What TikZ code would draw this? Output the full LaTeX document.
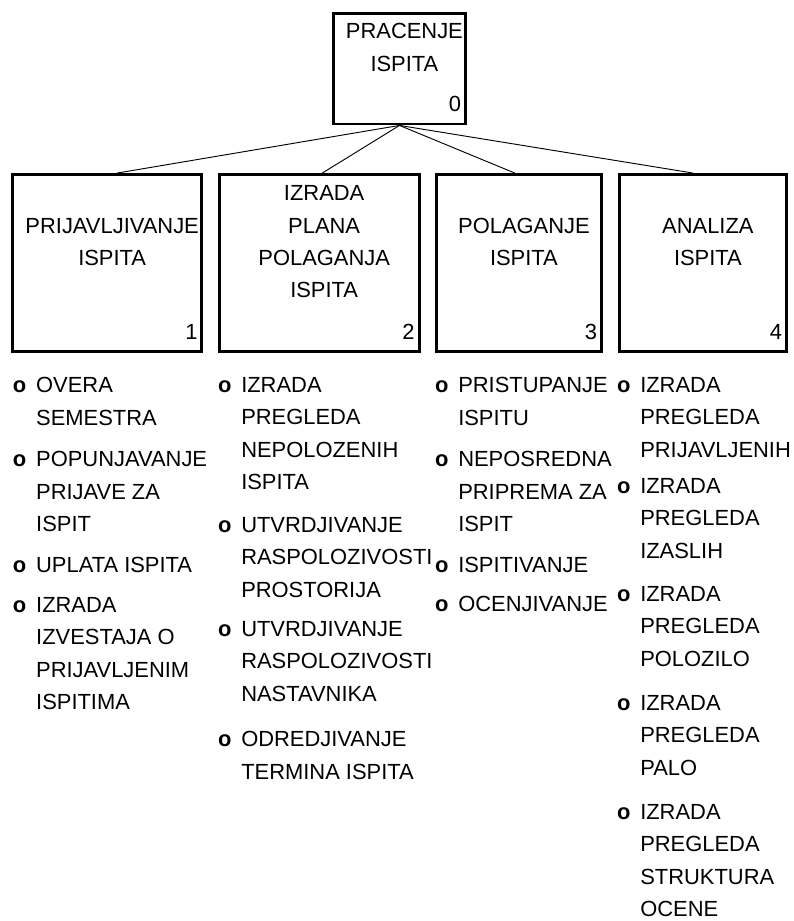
\documentclass[tikz,border=0pt]{standalone}
\usepackage{fontspec}
\setmainfont{Liberation Sans}
\usepackage{tikz}
\usetikzlibrary{positioning}
\newcommand{\itemdot}{\llap{\textbf{o}\hspace{7.4pt}}}
\tikzset{
    proc/.style={rectangle, draw=black, line width=2.2pt, minimum height=4.68cm, inner sep=0pt},
    title/.style={align=center, inner sep=0pt},
    num/.style={anchor=base east, inner sep=0pt},
    task/.style={anchor=north west, align=left, inner sep=0pt},
    link/.style={line width=0.7pt, black},
}

\begin{document}
\begin{tikzpicture}[font=\fontsize{16.5pt}{24.4pt}\selectfont]
    \path[fill=white] (0,0) rectangle (21.008,-24.368);
    \useasboundingbox (0,0) rectangle (21.008,-24.368);

    % Root
    \node[proc, minimum width=3.49cm, minimum height=2.92cm] (b0) at (10.57,-1.82) {};
    \node[title] (t0) at ([xshift=0.13cm,yshift=0.56cm]b0.center) {PRACENJE\\ISPITA};
    \node[num] (n0) at ([xshift=-0.15cm,yshift=0.36cm]b0.south east) {0};

    % Subprocesses
    \node[proc, minimum width=5.01cm] (b1) at (2.838,-6.958) {};
    \node[proc, minimum width=5.28cm] (b2) at (8.447,-6.958) {};
    \node[proc, minimum width=4.37cm] (b3) at (13.732,-6.958) {};
    \node[proc, minimum width=4.42cm] (b4) at (18.600,-6.958) {};

    \node[title] (t1) at ([xshift=0.13cm,yshift=0.56cm]b1.center) {PRIJAVLJIVANJE\\ISPITA};
    \node[title] (t2) at ([xshift=0.13cm,yshift=0.56cm]b2.center) {IZRADA\\PLANA\\POLAGANJA\\ISPITA};
    \node[title] (t3) at ([xshift=0.13cm,yshift=0.56cm]b3.center) {POLAGANJE\\ISPITA};
    \node[title] (t4) at ([xshift=0.13cm,yshift=0.56cm]b4.center) {ANALIZA\\ISPITA};

    \node[num] (n1) at ([xshift=-0.15cm,yshift=0.36cm]b1.south east) {1};
    \node[num] (n2) at ([xshift=-0.15cm,yshift=0.36cm]b2.south east) {2};
    \node[num] (n3) at ([xshift=-0.15cm,yshift=0.36cm]b3.south east) {3};
    \node[num] (n4) at ([xshift=-0.15cm,yshift=0.36cm]b4.south east) {4};

    \draw[link] (b0.south) -- ([xshift=0.26cm]b1.north);
    \draw[link] (b0.south) -- ([xshift=0.08cm]b2.north);
    \draw[link] (b0.south) -- ([xshift=-0.11cm]b3.north);
    \draw[link] (b0.south) -- ([xshift=-0.26cm]b4.north);

    % Tasks under 1
    \node[task] (a1) at (0.95,-9.980) {\itemdot OVERA\\SEMESTRA};
    \node[task] (a2) at (0.95,-11.938) {\itemdot POPUNJAVANJE\\PRIJAVE ZA\\ISPIT};
    \node[task] (a3) at (0.95,-14.742) {\itemdot UPLATA ISPITA};
    \node[task] (a4) at (0.95,-15.801) {\itemdot IZRADA\\IZVESTAJA O\\PRIJAVLJENIM\\ISPITIMA};

    % Tasks under 2
    \node[task] (c1) at (6.376,-9.980) {\itemdot IZRADA\\PREGLEDA\\NEPOLOZENIH\\ISPITA};
    \node[task] (c2) at (6.376,-13.684) {\itemdot UTVRDJIVANJE\\RASPOLOZIVOSTI\\PROSTORIJA};
    \node[task] (c3) at (6.376,-16.436) {\itemdot UTVRDJIVANJE\\RASPOLOZIVOSTI\\NASTAVNIKA};
    \node[task] (c4) at (6.376,-19.346) {\itemdot ODREDJIVANJE\\TERMINA ISPITA};

    % Tasks under 3
    \node[task] (d1) at (12.118,-9.980) {\itemdot PRISTUPANJE\\ISPITU};
    \node[task] (d2) at (12.118,-11.938) {\itemdot NEPOSREDNA\\PRIPREMA ZA\\ISPIT};
    \node[task] (d3) at (12.118,-14.742) {\itemdot ISPITIVANJE};
    \node[task] (d4) at (12.118,-15.774) {\itemdot OCENJIVANJE};

    % Tasks under 4
    \node[task] (e1) at (16.933,-9.980) {\itemdot IZRADA\\PREGLEDA\\PRIJAVLJENIH};
    \node[task] (e2) at (16.933,-12.652) {\itemdot IZRADA\\PREGLEDA\\IZASLIH};
    \node[task] (e3) at (16.933,-15.510) {\itemdot IZRADA\\PREGLEDA\\POLOZILO};
    \node[task] (e4) at (16.933,-18.394) {\itemdot IZRADA\\PREGLEDA\\PALO};
    \node[task] (e5) at (16.933,-21.278) {\itemdot IZRADA\\PREGLEDA\\STRUKTURA\\OCENE};
\end{tikzpicture}
\end{document}
